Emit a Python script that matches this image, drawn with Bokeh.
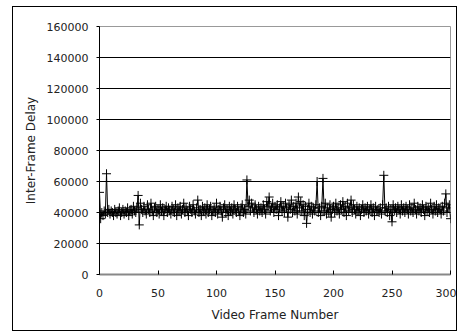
from bokeh.plotting import figure
from bokeh.models import FixedTicker, BasicTickFormatter, Range1d
from bokeh.embed import file_html
from bokeh.resources import INLINE

# Inter-frame delay per video frame (in thousands)
delay_thousands = [
    53, 36, 40, 38, 41, 39, 65, 40, 42, 39, 41, 40, 38, 42, 40, 39, 41, 43, 38, 40,
    42, 39, 41, 40, 43, 38, 41, 42, 39, 44, 41, 40, 43, 51, 32, 46, 42, 40, 44, 41,
    39, 45, 42, 40, 46, 41, 38, 43, 44, 40, 42, 39, 45, 41, 43, 38, 42, 44, 40, 43,
    41, 39, 44, 42, 40, 45, 38, 43, 41, 44, 39, 42, 46, 40, 43, 41, 38, 44, 42, 40,
    45, 41, 39, 43, 48, 40, 42, 38, 44, 41, 43, 39, 45, 40, 42, 44, 38, 41, 43, 40,
    46, 39, 42, 44, 41, 37, 43, 45, 40, 42, 38, 44, 41, 43, 39, 45, 42, 40, 44, 41,
    38, 43, 45, 40, 42, 39, 61, 44, 48, 41, 46, 43, 40, 45, 42, 39, 44, 41, 43, 40,
    45, 42, 39, 47, 44, 50, 41, 43, 46, 40, 44, 42, 45, 38, 43, 47, 41, 44, 40, 46,
    43, 37, 45, 42, 48, 40, 44, 41, 46, 39, 50, 43, 47, 41, 45, 38, 44, 33, 42, 46,
    40, 44, 39, 43, 41, 45, 60, 40, 43, 38, 44, 62, 41, 46, 39, 43, 40, 45, 37, 42,
    44, 40, 46, 41, 43, 39, 45, 42, 47, 40, 44, 38, 46, 41, 43, 48, 40, 45, 42, 39,
    44, 41, 43, 38, 42, 45, 40, 43, 41, 44, 39, 42, 45, 40, 43, 38, 44, 41, 42, 40,
    43, 39, 45, 64, 41, 43, 40, 44, 38, 42, 34, 45, 41, 43, 40, 44, 42, 39, 45, 41,
    43, 40, 44, 42, 39, 45, 41, 43, 40, 46, 42, 39, 44, 41, 43, 40, 45, 42, 38, 44,
    41, 43, 40, 46, 42, 39, 44, 41, 45, 40, 43, 42, 39, 44, 41, 46, 52, 40, 43, 45,
    36,
]
frames = list(range(len(delay_thousands)))
delay = [v * 1000 for v in delay_thousands]

trend_frames = [0, 300]
trend_delay = [40500, 40500]

x_ticks = [0, 50, 100, 150, 200, 250, 300]
y_ticks = [0, 20000, 40000, 60000, 80000, 100000, 120000, 140000, 160000]

FONT = "DejaVu Sans"
TXT = "#222222"

p = figure(width=445, height=325, output_backend="svg", toolbar_location=None,
           x_range=Range1d(0, 300), y_range=Range1d(0, 160000),
           min_border_left=86, min_border_right=8, min_border_top=19, min_border_bottom=58)
p.styles = {"border": "1px solid black", "margin-left": "12px", "margin-top": "6px"}
p.background_fill_color = "white"
p.border_fill_color = "white"
p.outline_line_color = "#999999"

p.line(trend_frames, trend_delay, line_color="#999999", line_width=1)
p.line(frames, delay, line_color="black", line_width=1)
p.scatter(frames, delay, marker="cross", size=9, line_color="black", line_width=1)

p.xgrid.visible = False
p.ygrid.ticker = FixedTicker(ticks=y_ticks)
p.ygrid.grid_line_color = "black"
p.ygrid.grid_line_width = 1

p.xaxis.ticker = FixedTicker(ticks=x_ticks)
p.yaxis.ticker = FixedTicker(ticks=y_ticks)
p.yaxis.formatter = BasicTickFormatter(use_scientific=False)

for ax in (p.xaxis, p.yaxis):
    ax.minor_tick_line_color = None
    ax.major_label_text_font = FONT
    ax.major_label_text_font_size = "11px"
    ax.major_label_text_color = TXT
    ax.axis_label_text_font = FONT
    ax.axis_label_text_font_size = "12px"
    ax.axis_label_text_font_style = "normal"
    ax.axis_label_text_color = TXT

p.xaxis.axis_label = "Video Frame Number"
p.xaxis.axis_line_color = "#888888"
p.xaxis.axis_line_width = 2
p.xaxis.major_tick_in = 4
p.xaxis.major_tick_out = 0
p.xaxis.major_tick_line_color = "black"
p.xaxis.major_label_standoff = 14
p.xaxis.axis_label_standoff = 8

p.yaxis.axis_label = "Inter-Frame Delay"
p.yaxis.axis_line_color = "black"
p.yaxis.axis_line_width = 1
p.yaxis.major_tick_in = 0
p.yaxis.major_tick_out = 3
p.yaxis.major_tick_line_color = "black"
p.yaxis.major_label_standoff = 8
p.yaxis.axis_label_standoff = 6

open("out.html", "w").write(file_html(p, INLINE))
